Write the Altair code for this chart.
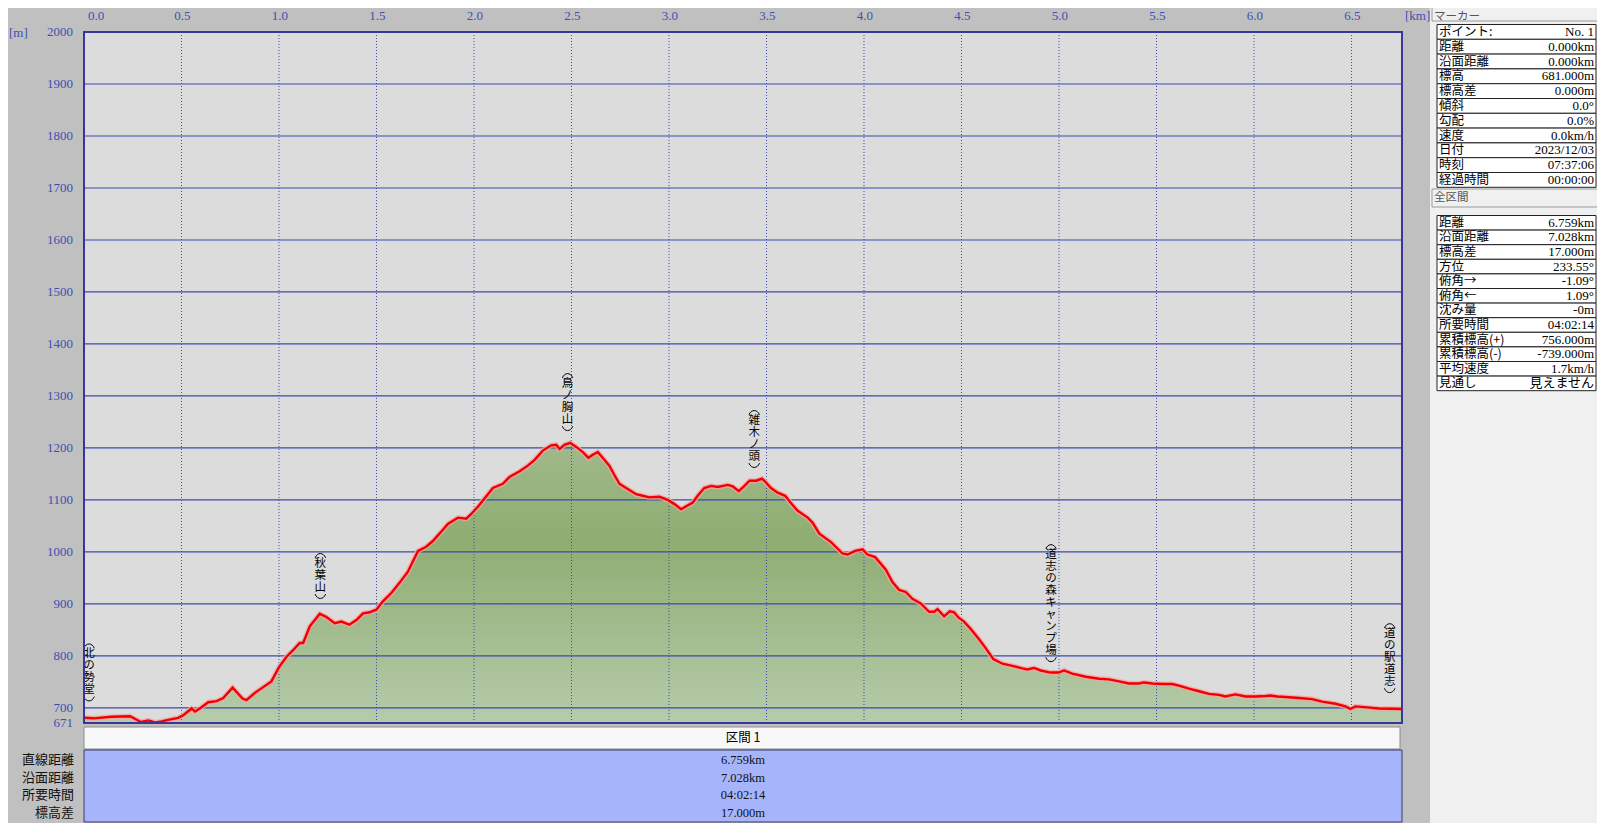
import altair as alt
import pandas as pd

# ---------------- data ----------------
km = [0.000, 0.048, 0.142, 0.236, 0.292, 0.330, 0.364, 0.398, 0.432, 0.483,
      0.509, 0.552, 0.569, 0.594, 0.637, 0.680, 0.714, 0.762, 0.813, 0.833,
      0.876, 0.919, 0.961, 1.001, 1.038, 1.072, 1.106, 1.124, 1.158, 1.209,
      1.243, 1.286, 1.320, 1.360, 1.397, 1.431, 1.465, 1.499, 1.533, 1.576,
      1.619, 1.661, 1.713, 1.755, 1.789, 1.832, 1.866, 1.918, 1.960, 1.986,
      2.020, 2.054, 2.097, 2.148, 2.182, 2.234, 2.276, 2.311, 2.353, 2.396,
      2.422, 2.439, 2.464, 2.493, 2.524, 2.558, 2.587, 2.609, 2.635, 2.660,
      2.694, 2.720, 2.746, 2.780, 2.831, 2.865, 2.899, 2.951, 2.993, 3.028,
      3.062, 3.088, 3.122, 3.147, 3.181, 3.216, 3.250, 3.301, 3.327, 3.358,
      3.387, 3.413, 3.447, 3.477, 3.494, 3.523, 3.557, 3.596, 3.625, 3.660,
      3.711, 3.737, 3.771, 3.831, 3.890, 3.916, 3.955, 3.993, 4.018, 4.057,
      4.112, 4.146, 4.180, 4.214, 4.248, 4.291, 4.334, 4.360, 4.377, 4.411,
      4.440, 4.462, 4.484, 4.513, 4.547, 4.590, 4.624, 4.663, 4.710, 4.761,
      4.812, 4.838, 4.872, 4.906, 4.957, 4.997, 5.026, 5.068, 5.137, 5.205,
      5.256, 5.308, 5.359, 5.410, 5.436, 5.479, 5.530, 5.581, 5.624, 5.666,
      5.718, 5.769, 5.820, 5.854, 5.880, 5.905, 5.957, 6.008, 6.059, 6.084,
      6.119, 6.161, 6.230, 6.298, 6.349, 6.418, 6.469, 6.494, 6.520, 6.580,
      6.640, 6.759]
elev = [681, 680, 683, 684, 673, 676, 672, 674, 677, 681,
        686, 699, 693, 699, 711, 713, 719, 739, 718, 715,
        729, 740, 751, 779, 798, 811, 825, 825, 857, 881,
        875, 863, 866, 860, 869, 882, 884, 889, 905, 921,
        941, 962, 1002, 1010, 1021, 1039, 1054, 1066, 1064, 1073,
        1087, 1103, 1123, 1131, 1144, 1155, 1166, 1177, 1195, 1205,
        1206, 1198, 1206, 1210, 1202, 1192, 1181, 1187, 1192, 1181,
        1166, 1148, 1131, 1123, 1111, 1108, 1105, 1106, 1100, 1092,
        1082, 1088, 1095, 1108, 1123, 1127, 1125, 1129, 1126, 1117,
        1127, 1137, 1137, 1141, 1135, 1123, 1114, 1108, 1094, 1079,
        1066, 1056, 1035, 1019, 997, 995, 1002, 1005, 995, 990,
        966, 942, 927, 923, 910, 901, 885, 885, 890, 876,
        886, 884, 874, 866, 852, 832, 815, 794, 785, 781,
        776, 774, 777, 772, 768, 768, 772, 766, 760, 756,
        755, 751, 747, 747, 749, 747, 746, 746, 742, 737,
        732, 727, 725, 722, 724, 726, 722, 722, 723, 724,
        722, 721, 719, 717, 712, 708, 703, 698, 703, 701,
        699, 698]

landmark_names = ["北の勢堂", "秋葉山", "鳥ノ胸山", "雑木ノ頭", "道志の森キャンプ場", "道の駅道志"]
landmark_km = [0.026, 1.212, 2.480, 3.437, 4.959, 6.696]
landmark_top = [824, 998, 1344, 1273, 1015, 863]

x_ticks = [0.0, 0.5, 1.0, 1.5, 2.0, 2.5, 3.0, 3.5, 4.0, 4.5, 5.0, 5.5, 6.0, 6.5]
y_ticks = [671, 700, 800, 900, 1000, 1100, 1200, 1300, 1400, 1500, 1600, 1700, 1800, 1900, 2000]
y_grid = [700, 800, 900, 1000, 1100, 1200, 1300, 1400, 1500, 1600, 1700, 1800, 1900]

marker_labels = ["ポイント:", "距離", "沿面距離", "標高", "標高差", "傾斜", "勾配", "速度", "日付", "時刻", "経過時間"]
marker_values = ["No. 1", "0.000km", "0.000km", "681.000m", "0.000m", "0.0°", "0.0%", "0.0km/h",
                 "2023/12/03", "07:37:06", "00:00:00"]
total_labels = ["距離", "沿面距離", "標高差", "方位", "俯角→", "俯角←", "沈み量", "所要時間",
                "累積標高(+)", "累積標高(-)", "平均速度", "見通し"]
total_values = ["6.759km", "7.028km", "17.000m", "233.55°", "-1.09°", "1.09°", "-0m", "04:02:14",
                "756.000m", "-739.000m", "1.7km/h", "見えません"]
section_labels = ["直線距離", "沿面距離", "所要時間", "標高差"]
section_values = ["6.759km", "7.028km", "04:02:14", "17.000m"]
section_title = "区間 1"
panel_titles = ["マーカー", "全区間"]

# ---------------- layout ----------------
PX0, PY0 = 84, 32          # absolute position of plot area
W, H = 1318, 691
DOM_X = [0, 6.759]
DOM_Y = [671, 2000]
PXM = H / (DOM_Y[1] - DOM_Y[0])


def rx(a):
    return a - PX0


def ry(a):
    return a - PY0


BLUE = "#3a4aae"
FRAME = "#36369c"
LBLUE = "#3f4fb4"
JP = "Noto Sans CJK JP"
SERIF = "Liberation Serif"
NUMJP = "Liberation Serif, Noto Sans CJK JP"

xs = alt.Scale(domain=DOM_X, nice=False, zero=False)
ys = alt.Scale(domain=DOM_Y, nice=False, zero=False)

prof = pd.DataFrame({"km": km, "elev": elev})

gradient = alt.Gradient(
    gradient="linear",
    stops=[alt.GradientStop(color="#a0b98a", offset=0),
           alt.GradientStop(color="#8fad72", offset=0.35),
           alt.GradientStop(color="#b6cbab", offset=1)],
    x1=1, x2=1, y1=0, y2=1)

area = alt.Chart(prof).mark_area(color=gradient).encode(
    x=alt.X("km:Q", scale=xs, axis=None),
    y=alt.Y("elev:Q", scale=ys, axis=None),
    y2=alt.datum(671))

vgrid = alt.Chart(pd.DataFrame({"v": x_ticks})).mark_rule(
    color=BLUE, strokeWidth=1, strokeDash=[1, 2]).encode(
    x=alt.X("v:Q", scale=xs, axis=None))
hgrid = alt.Chart(pd.DataFrame({"v": y_grid})).mark_rule(
    color=BLUE, strokeWidth=1.2).encode(
    y=alt.Y("v:Q", scale=ys, axis=None))

halo = alt.Chart(prof).mark_line(color="#f4a4a4", strokeWidth=5, opacity=0.85).encode(
    x=alt.X("km:Q", scale=xs, axis=None), y=alt.Y("elev:Q", scale=ys, axis=None))
line = alt.Chart(prof).mark_line(color="#f00000", strokeWidth=2.4).encode(
    x=alt.X("km:Q", scale=xs, axis=None), y=alt.Y("elev:Q", scale=ys, axis=None))

# tick labels drawn through the scales
xlab_df = pd.DataFrame({"v": x_ticks, "t": [f"{v:.1f}" for v in x_ticks]})
xlab_first = alt.Chart(xlab_df.iloc[:1]).mark_text(
    font=SERIF, fontSize=13, color=LBLUE, align="left", baseline="middle", dx=4).encode(
    x=alt.X("v:Q", scale=xs, axis=None), y=alt.value(-16), text="t:N")
xlab_rest = alt.Chart(xlab_df.iloc[1:]).mark_text(
    font=SERIF, fontSize=13, color=LBLUE, align="center", baseline="middle", dx=1).encode(
    x=alt.X("v:Q", scale=xs, axis=None), y=alt.value(-16), text="t:N")
ylab_df = pd.DataFrame({"v": y_ticks, "t": [str(v) for v in y_ticks]})
ylab = alt.Chart(ylab_df).mark_text(
    font=SERIF, fontSize=13, color=LBLUE, align="right", baseline="middle").encode(
    y=alt.Y("v:Q", scale=ys, axis=None), x=alt.value(-11), text="t:N")

# vertical landmark labels: stacked characters between arc-shaped brackets
LH = 12.0
lm = pd.DataFrame({"km": landmark_km, "top": landmark_top, "name": landmark_names})
lm["body"] = lm["name"].apply(lambda s: "\n".join(list(s)))
lm["ptop"] = lm["top"] - 2.5 / PXM
lm["pbot"] = lm.apply(lambda r: r["top"] - (5 + len(r["name"]) * LH + 2.5) / PXM, axis=1)

ARC_TOP = "M -1 0.45 C -0.6 -0.65 0.6 -0.65 1 0.45"
ARC_BOT = "M -1 -0.45 C -0.6 0.65 0.6 0.65 1 -0.45"

lm_body = alt.Chart(lm).mark_text(font=JP, fontSize=11.5, lineHeight=LH, lineBreak="\n",
                                  baseline="top", align="center", dy=5, color="#000000").encode(
    x=alt.X("km:Q", scale=xs, axis=None), y=alt.Y("top:Q", scale=ys, axis=None), text="body:N")
lm_open = alt.Chart(lm).mark_point(shape=ARC_TOP, size=110, filled=False, stroke="#000000",
                                   strokeWidth=1, opacity=1).encode(
    x=alt.X("km:Q", scale=xs, axis=None), y=alt.Y("ptop:Q", scale=ys, axis=None))
lm_close = alt.Chart(lm).mark_point(shape=ARC_BOT, size=110, filled=False, stroke="#000000",
                                    strokeWidth=1, opacity=1).encode(
    x=alt.X("km:Q", scale=xs, axis=None), y=alt.Y("pbot:Q", scale=ys, axis=None))


# ---------------- pixel-space helpers ----------------
def px_rect(df, **kw):
    return alt.Chart(df).mark_rect(**kw).encode(
        x=alt.X("x1:Q", scale=None, axis=None), x2=alt.X2("x2"),
        y=alt.Y("y1:Q", scale=None, axis=None), y2=alt.Y2("y2"))


def px_text(df, **kw):
    return alt.Chart(df).mark_text(**kw).encode(
        x=alt.X("x:Q", scale=None, axis=None),
        y=alt.Y("y:Q", scale=None, axis=None),
        text=alt.Text("t:N"))


frame = px_rect(pd.DataFrame({"x1": [0], "x2": [W], "y1": [0], "y2": [H]}),
                fillOpacity=0, stroke=FRAME, strokeWidth=2)

unit_m = px_text(pd.DataFrame({"x": [rx(9)], "y": [ry(33)], "t": ["[m]"]}),
                 font=SERIF, fontSize=13, color=LBLUE, align="left", baseline="middle")
unit_km = px_text(pd.DataFrame({"x": [rx(1405)], "y": [ry(16)], "t": ["[km]"]}),
                  font=SERIF, fontSize=13, color=LBLUE, align="left", baseline="middle")

# bottom section table
sec_hdr = px_rect(pd.DataFrame({"x1": [0], "x2": [rx(1400)], "y1": [ry(727)], "y2": [ry(749)]}),
                  fill="#f8f8f8", stroke="#8c8c8c", strokeWidth=1)
sec_hdr_t = px_text(pd.DataFrame({"x": [W / 2], "y": [ry(738)], "t": [section_title]}),
                    font=JP, fontSize=12.5, color="#000000", align="center", baseline="middle")
sec_box = px_rect(pd.DataFrame({"x1": [0], "x2": [W], "y1": [ry(750)], "y2": [ry(822)]}),
                  fill="#a5b4fb", stroke="#3b3b6b", strokeWidth=1)
sec_rows_y = [ry(760 + 17.7 * i) for i in range(len(section_values))]
sec_vals = px_text(pd.DataFrame({"x": [W / 2] * len(section_values), "y": sec_rows_y, "t": section_values}),
                   font=NUMJP, fontSize=12.5, color="#111111", align="center", baseline="middle")
sec_labs = px_text(pd.DataFrame({"x": [rx(74)] * len(section_labels), "y": sec_rows_y, "t": section_labels}),
                   font=JP, fontSize=13, color="#111111", align="right", baseline="middle")

# right panel
panel_bg = px_rect(pd.DataFrame({"x1": [rx(1430)], "x2": [rx(1620)], "y1": [ry(0)], "y2": [ry(850)]}),
                   fill="#f0f0f0", strokeWidth=0)
panel_hdr = px_rect(pd.DataFrame({"x1": [rx(1432), rx(1432)], "x2": [rx(1620), rx(1620)],
                                  "y1": [ry(0), ry(189)], "y2": [ry(21), ry(207)]}),
                    fill="#f0f0f0", stroke="#9a9a9a", strokeWidth=1)
panel_hdr_t = px_text(pd.DataFrame({"x": [rx(1434), rx(1434)], "y": [ry(16.5), ry(198)], "t": panel_titles}),
                      font=JP, fontSize=11.5, color="#555555", align="left", baseline="middle")


def table(labels, values, top, rh):
    n = len(labels)
    tops = [top + rh * i for i in range(n)]
    cells = px_rect(pd.DataFrame({"x1": [rx(1437)] * n, "x2": [rx(1596)] * n,
                                  "y1": [ry(t) for t in tops], "y2": [ry(t + rh) for t in tops]}),
                    fill="#ffffff", stroke="#222222", strokeWidth=1)
    labs = px_text(pd.DataFrame({"x": [rx(1439)] * n, "y": [ry(t + rh / 2) for t in tops], "t": labels}),
                   font=JP, fontSize=12.5, color="#000000", align="left", baseline="middle")
    vals = px_text(pd.DataFrame({"x": [rx(1594)] * n, "y": [ry(t + rh / 2) for t in tops], "t": values}),
                   font=NUMJP, fontSize=13, color="#000000", align="right", baseline="middle")
    return [cells, labs, vals]


tab1 = table(marker_labels, marker_values, 24.5, 14.8)
tab2 = table(total_labels, total_values, 215.5, 14.6)

chart = alt.layer(
    area, vgrid, hgrid, halo, line, lm_body, lm_open, lm_close, frame,
    xlab_first, xlab_rest, ylab,
    unit_m, unit_km, sec_hdr, sec_hdr_t, sec_box, sec_vals, sec_labs,
    panel_bg, panel_hdr, panel_hdr_t, *tab1, *tab2
).properties(
    width=W, height=H, background="#c0c0c0",
    padding={"left": 76, "top": 24, "right": 195, "bottom": 100},
    autosize=alt.AutoSizeParams(type="none")
).configure_view(fill="#dcdcdc", strokeWidth=0)

chart.save("out.html", embed_options={"renderer": "svg", "actions": False})
